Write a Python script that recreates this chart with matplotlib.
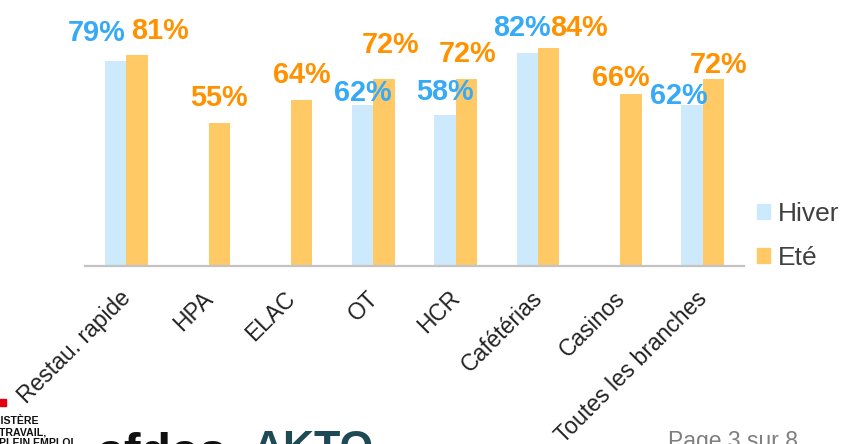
import numpy as np
import matplotlib
matplotlib.use('Agg')
import matplotlib.pyplot as plt
from matplotlib.patches import Patch
from matplotlib.transforms import ScaledTranslation

plt.rcParams['font.family'] = ['Liberation Sans', 'DejaVu Sans']

# data
categories = ['Restau. rapide', 'HPA', 'ELAC', 'OT', 'HCR', 'Cafétérias', 'Casinos', 'Toutes les branches']
hiver = [79, np.nan, np.nan, 62, 58, 82, np.nan, 62]
ete = [81, 55, 64, 72, 72, 84, 66, 72]

# hand placement of value labels (pixels: dx, height of baseline above bar top)
hiver_nudge = [(-19, 20), None, None, (0, 4), (0, 15), (-5, 17), None, (-13, 1)]
ete_nudge = [(23, 16), (0, 17), (0, 17), (7, 26), (1, 17), (30, 12), (-10, 8), (5, 6)]

C_HIVER = '#cdeafd'
C_ETE = '#ffc966'
C_HIVER_TXT = '#36a9f7'
C_ETE_TXT = '#ff9200'

fig = plt.figure(figsize=(8.43, 4.44), dpi=100)
ax = fig.add_axes([85 / 843, 1 - 266 / 444, 659 / 843, 266 / 444])

x = np.arange(len(categories))
w = 0.26
ax.bar(x - w / 2, hiver, w, color=C_HIVER, label='Hiver')
ax.bar(x + w / 2, ete, w, color=C_ETE, label='Eté')

for xs, vals, nudges, col in [(x - w / 2, hiver, hiver_nudge, C_HIVER_TXT),
                              (x + w / 2, ete, ete_nudge, C_ETE_TXT)]:
    for xi, v, nd in zip(xs, vals, nudges):
        if np.isnan(v) or nd is None:
            continue
        ax.annotate(f'{v:.0f}%', (xi, v), xytext=nd, textcoords='offset pixels',
                    ha='center', va='baseline', fontsize=20.8, fontweight='bold',
                    color=col, annotation_clip=False)

ax.set_xlim(-0.5, len(categories) - 0.5)
ax.set_ylim(0, 266 / 2.6)
for s in ['top', 'right', 'left']:
    ax.spines[s].set_visible(False)
ax.spines['bottom'].set_color('#c3c3c3')
ax.spines['bottom'].set_linewidth(1.6)
ax.set_yticks([])
ax.set_xticks(x)
ax.set_xticklabels(categories, rotation=45, ha='right', va='top',
                   rotation_mode='anchor', fontsize=16.5, color='#222222')
ax.tick_params(axis='x', length=0, pad=15)
shift = ScaledTranslation(-7 / 100, 0, fig.dpi_scale_trans)
for lab in ax.get_xticklabels():
    lab.set_transform(lab.get_transform() + shift)

ax.legend(handles=[Patch(color=C_HIVER, label='Hiver'), Patch(color=C_ETE, label='Eté')],
          loc='center left', bbox_to_anchor=(757 / 843, 1 - 236 / 444),
          bbox_transform=fig.transFigure, frameon=False, fontsize=19,
          handlelength=0.48, handleheight=0.48, handletextpad=0.3,
          labelspacing=0.75, borderpad=0, borderaxespad=0, labelcolor='#404040')

# footer (cut by the page edge in the original)
fig.patches.append(plt.Rectangle((0, 1 - 406 / 444), 6 / 843, 7 / 444,
                                 transform=fig.transFigure, color='#e1000f'))
fig.text(-19 / 843, 1 - 416 / 444, 'MINISTÈRE\nDU TRAVAIL,\nDU PLEIN EMPLOI',
         ha='left', va='top', fontsize=7.6, fontweight='bold', color='#111111',
         linespacing=1.15)
fig.text(97 / 843, 1 - 468 / 444, 'afdas', ha='left', va='baseline',
         fontsize=36, fontweight='bold', color='#111111')
fig.text(253 / 843, 1 - 460 / 444, 'AKTO', ha='left', va='baseline',
         fontsize=31, fontweight='bold', color='#1d4a55')
fig.text(668 / 843, 1 - 448 / 444, 'Page 3 sur 8', ha='left', va='baseline',
         fontsize=16.5, color='#7f7f7f')

fig.savefig('out.png', dpi=100)
